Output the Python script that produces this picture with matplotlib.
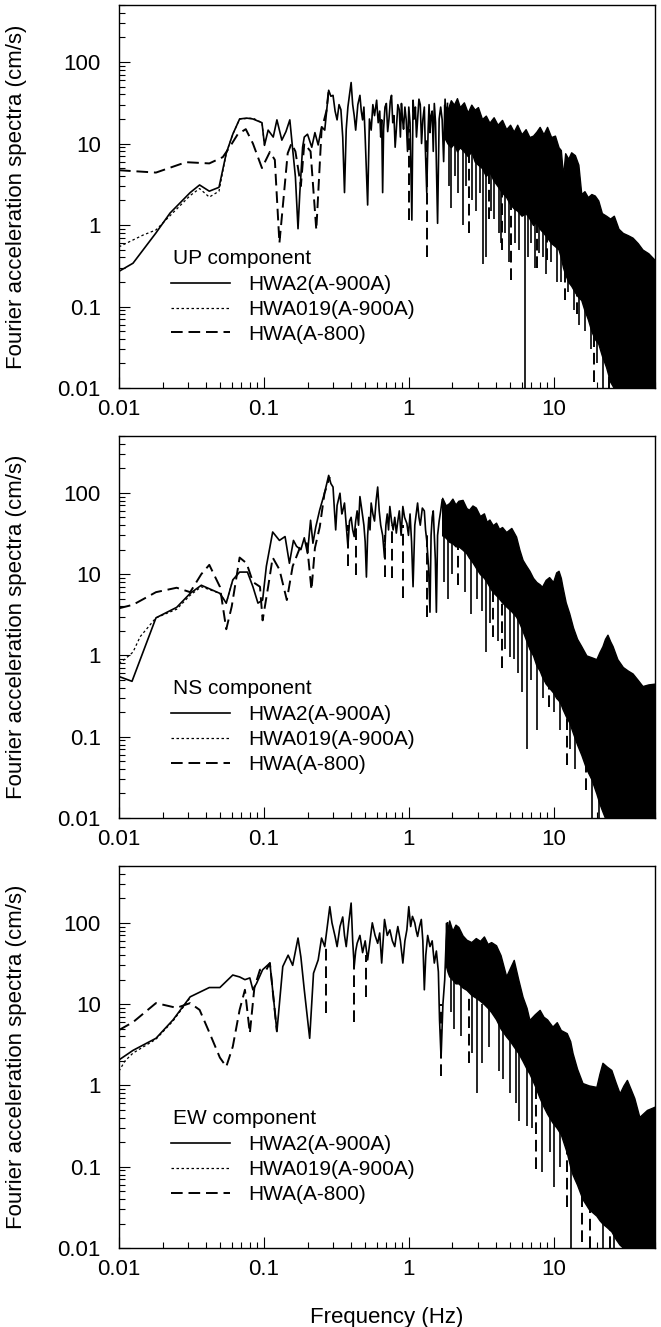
import numpy as np
import matplotlib
matplotlib.use("Agg")
import matplotlib.pyplot as plt
from matplotlib.ticker import FixedLocator, LogLocator, NullFormatter

plt.rcParams['font.family'] = ['Liberation Sans', 'DejaVu Sans']

# ---------------- axis tick labels ----------------
x_ticks = [0.01, 0.1, 1, 10]
x_ticklabels = ["0.01", "0.1", "1", "10"]
y_ticks = [0.01, 0.1, 1, 10, 100]
y_ticklabels = ["0.01", "0.1", "1", "10", "100"]
series_labels = ["HWA2(A-900A)", "HWA019(A-900A)", "HWA(A-800)"]
components = ["UP component", "NS component", "EW component"]

# ================= UP component =================
up_hwa2_f = [0.010, 0.0125, 0.018, 0.0225, 0.031, 0.036, 0.042, 0.049, 0.055, 0.061, 0.068, 0.076, 0.084,
             0.097, 0.101, 0.107, 0.116, 0.123, 0.133, 0.142, 0.151, 0.158, 0.165, 0.172, 0.177, 0.185, 0.19,
             0.20, 0.214, 0.225, 0.237, 0.25, 0.263,
             0.28, 0.29, 0.30, 0.31, 0.32, 0.33, 0.34, 0.35, 0.36, 0.37, 0.38, 0.39, 0.40, 0.41, 0.42, 0.43,
             0.445, 0.46, 0.47, 0.48, 0.49, 0.50, 0.52, 0.535, 0.55, 0.565, 0.58, 0.60, 0.615, 0.63, 0.64,
             0.65, 0.66, 0.67, 0.685, 0.70, 0.715, 0.73, 0.745, 0.76, 0.775, 0.79, 0.805, 0.82, 0.84, 0.86,
             0.875, 0.89, 0.905, 0.92, 0.94, 0.96, 0.98, 1.00, 1.02, 1.05, 1.07, 1.09, 1.11, 1.13, 1.15,
             1.175, 1.20, 1.225, 1.25, 1.28, 1.30, 1.33, 1.36, 1.38, 1.40, 1.425, 1.45, 1.475, 1.50, 1.53,
             1.58, 1.62, 1.66, 1.70, 1.74, 1.78, 1.82, 1.85]
up_hwa2_v = [0.27, 0.34, 0.80, 1.4, 2.5, 3.1, 2.6, 2.9, 7.6, 13, 20, 20.5, 20,
             18, 9.5, 14.6, 12, 19.5, 11, 14, 19.5, 8.5, 3.9, 0.9, 2.5, 9, 12,
             13, 9, 13.6, 9.6, 16, 14.6,
             45, 38, 39, 25, 19.5, 30, 26, 12, 2.5, 15, 28, 40, 56, 30, 22, 14.6,
             30, 39, 25, 19.5, 28, 12, 1.76, 20, 14.6, 30, 22, 34, 18, 25, 12,
             19.5, 2.5, 15, 28, 31, 14, 20, 33, 39, 18, 22, 9, 14.6, 30, 26,
             12, 31, 20, 15, 28, 19.5, 8, 28, 18, 1.15, 34, 20, 28, 12, 19.5,
             35, 30, 10, 19.5, 28, 9, 2.5, 15, 30, 13.6, 22, 25, 8, 31, 18,
             1.05, 20, 28, 19.5, 6, 35, 14, 31]
up_hwa019_f = [0.010, 0.0146, 0.018, 0.0225, 0.031, 0.036, 0.042, 0.049, 0.055, 0.061, 0.068, 0.084, 0.097, 0.101]
up_hwa019_v = [0.54, 0.75, 0.87, 1.3, 2.3, 2.8, 2.2, 2.6, 7.6, 13, 20, 20.5, 18, 9.5]
up_hwa800_f = [0.010, 0.018, 0.029, 0.042, 0.052, 0.058, 0.066, 0.075, 0.084, 0.097, 0.110, 0.119, 0.128,
               0.146, 0.155, 0.165, 0.18, 0.19, 0.21, 0.23, 0.25, 0.27, 0.28]
up_hwa800_v = [4.7, 4.4, 5.9, 5.7, 6.8, 9, 13, 15, 10, 5, 7.9, 6.3, 0.6,
               7.6, 10, 8, 3, 10, 8, 0.87, 14.6, 25, 45]
up_band_f = [1.75, 1.85, 1.95, 2.05, 2.15, 2.25, 2.4, 2.55, 2.7, 2.85, 3.0, 3.2, 3.4, 3.6, 3.85, 4.1, 4.4,
             4.7, 5.0, 5.3, 5.6, 6.0, 6.4, 6.8, 7.2, 7.6, 8.0, 8.5, 9.0, 9.6, 10.2, 10.8, 11.2, 11.6, 12.0,
             12.6, 13.2, 14.0, 14.8, 15.5, 16.3, 17.2, 18.2, 19.2, 20.3, 21.5, 23, 24.5, 26, 28, 30, 32.5,
             35, 38, 41, 45, 50]
up_band_top = [30, 26, 34, 30, 36, 28, 32, 24, 30, 26, 28, 20, 22, 18, 21, 17, 19.5,
               15, 17, 14, 17, 13, 15, 12, 12.5, 14, 16, 13, 16, 12, 12.5, 9, 8.3, 4.0, 7.6,
               6.5, 7.8, 7.2, 5.5, 2.4, 2.6, 2.2, 2.4, 2.3, 2.0, 1.4, 1.3, 1.2, 1.3, 0.9, 0.8, 0.75,
               0.7, 0.6, 0.5, 0.45, 0.37]
up_band_bot = [12, 10, 9, 10, 8, 9, 8, 7, 8, 6, 5.5, 5, 4, 4.5, 3.5, 3, 2.5,
               2.2, 1.8, 1.6, 1.5, 1.3, 1.4, 1.2, 1.0, 1.1, 0.9, 0.8, 0.7, 0.6, 0.55, 0.5, 0.4, 0.3, 0.25,
               0.2, 0.18, 0.15, 0.13, 0.12, 0.09, 0.07, 0.05, 0.04, 0.035, 0.025, 0.018, 0.012, 0.01, 0.01,
               0.01, 0.01, 0.01, 0.01, 0.01, 0.01, 0.01]
up_spike_f = [1.9, 1.97, 2.1, 2.2, 2.35, 2.5, 2.75, 2.9, 3.1, 3.25, 3.4, 3.7, 3.9, 4.2, 4.3, 4.6, 4.9, 5.4,
              5.8, 6.3, 6.6, 7.0, 7.4, 7.9, 8.4, 8.8, 9.6, 10.5, 11.2, 12.6, 13.8, 15.0, 16.5, 18.0, 20.0, 22.0]
up_spike_hi = [15, 12, 12, 12, 10, 10, 10, 8, 7, 6, 5, 5, 4, 4, 3, 3, 2.5, 2,
               2, 2, 1.5, 1.5, 1.3, 1.2, 1.0, 1.0, 0.9, 0.8, 0.6, 0.4, 0.3, 0.25, 0.2, 0.12, 0.08, 0.05]
up_spike_lo = [3, 1.6, 4, 2.5, 1.0, 3, 2, 1.5, 2.5, 0.33, 0.4, 1.5, 1.2, 0.8, 0.6, 0.8, 0.35, 0.6,
               0.5, 0.01, 0.4, 0.6, 0.3, 0.45, 0.4, 0.25, 0.35, 0.2, 0.2, 0.15, 0.09, 0.06, 0.05, 0.03, 0.02, 0.01]
up_dspike_f = [1.0, 1.33, 2.6, 3.55, 4.4, 5.1, 7.7, 9.0, 12.0, 14.4, 19.0, 24.0]
up_dspike_hi = [15, 12, 8, 5, 3, 2, 1.2, 1.0, 0.3, 0.2, 0.06, 0.02]
up_dspike_lo = [1.15, 0.4, 0.8, 1.2, 0.5, 0.21, 0.3, 0.37, 0.12, 0.08, 0.012, 0.01]

# ================= NS component =================
ns_hwa2_f = [0.010, 0.0123, 0.018, 0.025, 0.031, 0.037, 0.0497, 0.055, 0.061, 0.068, 0.077, 0.084, 0.091,
             0.098, 0.104, 0.115, 0.128, 0.14, 0.15, 0.16, 0.168, 0.18, 0.19, 0.20, 0.21, 0.218, 0.228,
             0.243, 0.262,
             0.28, 0.29, 0.30, 0.307, 0.313, 0.32, 0.335, 0.345, 0.35, 0.36, 0.37, 0.38, 0.39, 0.40, 0.41,
             0.42, 0.43, 0.44, 0.45, 0.46, 0.475, 0.49, 0.50, 0.51, 0.52, 0.53, 0.54, 0.55, 0.565, 0.58,
             0.595, 0.61, 0.625, 0.64, 0.66, 0.68, 0.695, 0.71, 0.725, 0.74, 0.76, 0.78, 0.80, 0.82, 0.84,
             0.86, 0.885, 0.91, 0.935, 0.97, 0.995, 1.02, 1.045, 1.07, 1.10, 1.15, 1.175, 1.20, 1.24, 1.28,
             1.305, 1.33, 1.37, 1.40, 1.425, 1.45, 1.475, 1.50, 1.525, 1.55, 1.58, 1.62, 1.66, 1.70]
ns_hwa2_v = [0.55, 0.48, 2.9, 3.9, 5.8, 7.3, 5.8, 4.4, 8.5, 10.6, 10.6, 7.0, 4.4,
             4.8, 12.5, 33, 26, 29, 13.6, 26, 22, 20, 28, 18, 46, 24, 38,
             62, 99,
             164, 130, 118, 60, 35, 70, 99, 55, 60, 75, 40, 22, 45, 50, 35,
             29, 45, 60, 40, 90, 60, 40, 25, 9.2, 30, 50, 35, 75, 55, 45,
             80, 118, 60, 40, 30, 16, 40, 55, 35, 68, 45, 35, 50, 32, 45,
             60, 30, 68, 50, 42, 30, 55, 25, 7, 40, 75, 50, 40, 65, 60,
             35, 26, 12, 3.4, 30, 50, 60, 30, 15, 3.4, 30, 45, 60, 82]
ns_hwa019_f = [0.010, 0.011, 0.0125, 0.014, 0.018, 0.025, 0.031, 0.037, 0.0497, 0.055, 0.061]
ns_hwa019_v = [0.8, 0.9, 1.1, 1.7, 2.9, 3.7, 5.5, 7.0, 5.8, 4.4, 8.5]
ns_hwa800_f = [0.010, 0.0125, 0.018, 0.025, 0.031, 0.037, 0.042, 0.0497, 0.055, 0.060, 0.068, 0.076, 0.084,
               0.094, 0.098, 0.107, 0.115, 0.128, 0.144, 0.158, 0.177, 0.198, 0.213, 0.225, 0.243, 0.262, 0.285]
ns_hwa800_v = [3.8, 4.2, 6.0, 6.8, 6.0, 10, 13, 7, 2.1, 4, 16, 13.6, 8,
               7, 2.7, 7, 16, 11.4, 4.8, 12.5, 21, 24, 6.4, 21, 38, 99, 157]
ns_band_f = [1.7, 1.8, 1.9, 2.0, 2.1, 2.2, 2.35, 2.5, 2.6, 2.75, 2.9, 3.1, 3.3, 3.45, 3.6, 3.8, 4.0, 4.2,
             4.4, 4.7, 5.1, 5.5, 5.8, 6.1, 6.4, 6.8, 7.2, 7.6, 8.0, 8.3, 8.8, 9.3, 9.9, 10.4, 10.8, 11.2,
             11.5, 12.1, 12.8, 13.6, 14.5, 15.5, 16.8, 18.2, 19.7, 20.7, 21.7, 22.6, 23.5, 24.5, 25.5,
             27.5, 30, 32.5, 35, 38, 41, 45, 50]
ns_band_top = [87, 70, 75, 85, 72, 80, 82, 65, 62, 70, 66, 52, 56, 44, 47, 40, 43, 36,
               38, 33, 37, 29, 20, 15, 13, 11, 9, 8, 7.5, 7, 8.5, 9.2, 8, 10.5, 11, 9,
               7, 4.5, 3.3, 2.2, 1.6, 1.3, 1.0, 0.95, 0.9, 1.1, 1.3, 1.6, 1.8, 1.5, 1.3,
               0.9, 0.72, 0.65, 0.6, 0.5, 0.42, 0.44, 0.45]
ns_band_bot = [30, 28, 25, 24, 22, 22, 20, 18, 16, 14, 12, 10, 9, 8, 7, 6, 5.5, 5,
               4.5, 4, 3.5, 3.0, 2.5, 2.0, 1.6, 1.2, 1.0, 0.75, 0.65, 0.55, 0.45, 0.4, 0.35, 0.3, 0.28, 0.25,
               0.22, 0.18, 0.15, 0.11, 0.08, 0.06, 0.04, 0.03, 0.02, 0.015, 0.012, 0.01, 0.01, 0.01, 0.01,
               0.01, 0.01, 0.01, 0.01, 0.01, 0.01, 0.01, 0.01]
ns_spike_f = [1.75, 1.85, 2.0, 2.45, 2.7, 2.95, 3.2, 3.4, 3.65, 4.1, 4.6, 5.0, 5.3, 5.7, 6.0, 6.5, 7.0,
              7.7, 8.5, 10.0, 11.0, 13.0, 14.0, 18.5, 20.5]
ns_spike_hi = [40, 30, 30, 25, 20, 15, 12, 12, 10, 8, 6, 5, 5, 4, 3, 2.5, 1.5,
               1.5, 0.8, 0.5, 0.4, 0.2, 0.15, 0.1, 0.05]
ns_spike_lo = [8, 5, 10, 6, 3.2, 5, 3.5, 1.1, 2.5, 1.5, 1.2, 0.95, 0.9, 0.6, 0.35, 0.07, 0.5,
               0.12, 0.3, 0.2, 0.12, 0.07, 0.04, 0.01, 0.01]
ns_dspike_f = [0.38, 0.43, 0.68, 0.76, 0.91, 1.33, 2.2, 3.8, 4.4, 9.3, 12.3, 16.8]
ns_dspike_hi = [40, 40, 30, 40, 40, 30, 30, 8, 6, 0.5, 0.2, 0.05]
ns_dspike_lo = [12.5, 9.8, 9.3, 9.0, 5.1, 3.0, 7.3, 1.7, 0.7, 0.23, 0.045, 0.022]

# ================= EW component =================
ew_hwa2_f = [0.010, 0.0125, 0.018, 0.0236, 0.031, 0.036, 0.042, 0.0497, 0.061, 0.068, 0.074, 0.080, 0.084,
             0.089, 0.098, 0.110, 0.123, 0.135, 0.147, 0.158, 0.172, 0.180, 0.190, 0.207, 0.220, 0.237,
             0.250, 0.263,
             0.285, 0.295, 0.31, 0.32, 0.335, 0.35, 0.36, 0.37, 0.385, 0.40, 0.41, 0.42, 0.43, 0.44, 0.46,
             0.48, 0.50, 0.52, 0.54, 0.56, 0.585, 0.61, 0.63, 0.65, 0.665, 0.68, 0.71, 0.74, 0.77, 0.80,
             0.82, 0.84, 0.875, 0.91, 0.94, 0.97, 1.00, 1.03, 1.06, 1.10, 1.125, 1.15, 1.185, 1.22, 1.25,
             1.28, 1.31, 1.35, 1.40, 1.45, 1.50, 1.55, 1.60, 1.63, 1.67, 1.72, 1.77, 1.81, 1.85]
ew_hwa2_v = [2.06, 2.7, 3.8, 6.4, 12.3, 14, 16, 16, 22.8, 21.6, 20, 21, 15,
             18, 26.5, 32, 4.6, 29, 40, 30, 65, 38, 15, 3.8, 24, 35,
             65, 51,
             158, 100, 68, 51, 90, 118, 70, 51, 100, 175, 60, 29, 45, 56, 70,
             43, 60, 35, 60, 100, 70, 56, 75, 32, 60, 110, 70, 82, 60, 51,
             70, 90, 60, 32, 60, 82, 158, 90, 120, 100, 80, 68, 90, 110, 60,
             15, 40, 70, 51, 60, 32, 45, 25, 6.4, 2.2, 10, 20, 60, 100]
ew_hwa019_f = [0.010, 0.011, 0.0125, 0.018, 0.0236, 0.031]
ew_hwa019_v = [1.5, 2.0, 2.5, 3.7, 6.2, 12]
ew_hwa800_f = [0.010, 0.0125, 0.018, 0.025, 0.031, 0.036, 0.042, 0.0497, 0.055, 0.061, 0.068, 0.074,
               0.080, 0.086, 0.094, 0.104, 0.110, 0.123]
ew_hwa800_v = [4.8, 6, 10.3, 9, 10.3, 8.5, 4.5, 2.2, 1.7, 3.0, 8.5, 15,
               4.4, 16, 26.5, 26.5, 32, 4.6]
ew_band_f = [1.8, 1.85, 1.9, 2.0, 2.1, 2.2, 2.35, 2.5, 2.7, 2.9, 3.1, 3.3, 3.5, 3.7, 4.0, 4.3, 4.7, 5.0,
             5.3, 5.7, 6.1, 6.5, 6.8, 7.4, 8.0, 8.5, 9.0, 9.8, 10.5, 11.2, 12.3, 13.0, 13.5, 14.5, 15.8,
             17.5, 19.7, 20.7, 21.7, 23.3, 25, 26.7, 28.5, 30.3, 32, 34, 36, 39, 44, 50]
ew_band_top = [100, 85, 107, 80, 95, 89, 70, 62, 58, 65, 60, 68, 55, 58, 53, 40, 22, 28,
               35, 20, 12.3, 9, 6.4, 7.5, 8.5, 7, 6.5, 5.3, 6, 4.8, 4.4, 3.5, 2.5, 1.6, 1.07,
               1.0, 0.96, 1.4, 1.9, 1.7, 1.55, 1.1, 0.8, 1.0, 1.17, 0.9, 0.7, 0.41, 0.5, 0.55]
ew_band_bot = [30, 25, 22, 20, 18, 18, 16, 15, 13, 12, 11, 10, 9, 8, 6.5, 5, 4, 3.5,
               3, 2.5, 2, 1.6, 1.4, 1.0, 0.7, 0.55, 0.45, 0.35, 0.3, 0.25, 0.15, 0.1, 0.08, 0.06, 0.04,
               0.03, 0.025, 0.022, 0.02, 0.018, 0.016, 0.013, 0.011, 0.01, 0.01, 0.01, 0.01, 0.01, 0.01, 0.01]
ew_spike_f = [1.95, 2.05, 2.3, 2.75, 2.95, 3.2, 3.6, 4.2, 4.5, 5.0, 5.5, 5.8, 6.5, 7.1, 8.3, 9.4, 10.0,
              11.0, 13.2, 22.0, 26.0, 35.0]
ew_spike_hi = [30, 25, 20, 15, 12, 10, 10, 8, 6, 4, 3.5, 3, 2, 1.5, 0.7, 0.5, 0.4,
               0.3, 0.2, 0.03, 0.03, 0.02]
ew_spike_lo = [8, 5, 4, 2.5, 0.8, 1.9, 3, 1.5, 1.2, 0.8, 0.6, 0.37, 0.32, 0.3, 0.086, 0.15, 0.056,
               0.1, 0.01, 0.01, 0.01, 0.013]
ew_dspike_f = [0.27, 0.42, 0.51, 1.66, 2.6, 7.5, 12.3, 15.8, 17.7, 24.5]
ew_dspike_hi = [50, 40, 40, 10, 12, 1.0, 0.3, 0.1, 0.08, 0.03]
ew_dspike_lo = [7.8, 6.0, 12.3, 1.3, 1.9, 0.095, 0.032, 0.012, 0.01, 0.01]

panels = [
    (up_hwa2_f, up_hwa2_v, up_hwa019_f, up_hwa019_v, up_hwa800_f, up_hwa800_v,
     up_band_f, up_band_top, up_band_bot, up_spike_f, up_spike_hi, up_spike_lo,
     up_dspike_f, up_dspike_hi, up_dspike_lo),
    (ns_hwa2_f, ns_hwa2_v, ns_hwa019_f, ns_hwa019_v, ns_hwa800_f, ns_hwa800_v,
     ns_band_f, ns_band_top, ns_band_bot, ns_spike_f, ns_spike_hi, ns_spike_lo,
     ns_dspike_f, ns_dspike_hi, ns_dspike_lo),
    (ew_hwa2_f, ew_hwa2_v, ew_hwa019_f, ew_hwa019_v, ew_hwa800_f, ew_hwa800_v,
     ew_band_f, ew_band_top, ew_band_bot, ew_spike_f, ew_spike_hi, ew_spike_lo,
     ew_dspike_f, ew_dspike_hi, ew_dspike_lo),
]

fig = plt.figure(figsize=(6.61, 13.27), dpi=100)
rects = [[0.1800, 0.7076, 0.8109, 0.2886],
         [0.1800, 0.3836, 0.8109, 0.2878],
         [0.1800, 0.0595, 0.8109, 0.2879]]

DASH = (6, 3)
DOT = (2.0, 2.0)

for i, (rect, data, comp) in enumerate(zip(rects, panels, components)):
    (f2, v2, f19, v19, f8, v8, bf, btop, bbot, sf, shi, slo, dsf, dshi, dslo) = data
    ax = fig.add_axes(rect)
    ax.set_xscale('log')
    ax.set_yscale('log')
    ax.set_xlim(0.01, 50)
    ax.set_ylim(0.01, 500)

    ax.fill_between(bf, bbot, btop, color='black', lw=1.0, edgecolor='black')
    ax.vlines(sf, slo, shi, colors='black', lw=1.2)
    ax.vlines(dsf, dslo, dshi, colors='black', lw=1.4, linestyles=[(0, DASH)])
    l8, = ax.plot(f8, v8, color='black', lw=1.4, dashes=DASH, label=series_labels[2])
    l19, = ax.plot(f19, v19, color='black', lw=0.9, dashes=DOT, label=series_labels[1])
    l2, = ax.plot(f2, v2, color='black', lw=1.2, label=series_labels[0])

    ax.text(0.101, 0.338, comp, transform=ax.transAxes, fontsize=15, ha='left', va='center')
    ax.legend(handles=[l2, l19, l8], loc='upper left',
              bbox_to_anchor=(0.097, 0.295), frameon=False, fontsize=15,
              handlelength=2.83, handletextpad=0.87, labelspacing=0.28,
              borderpad=0.0, borderaxespad=0.0)

    ax.xaxis.set_major_locator(FixedLocator(x_ticks))
    ax.set_xticklabels(x_ticklabels)
    ax.xaxis.set_minor_locator(LogLocator(base=10, subs=np.arange(2, 10)))
    ax.xaxis.set_minor_formatter(NullFormatter())
    ax.yaxis.set_major_locator(FixedLocator(y_ticks))
    ax.set_yticklabels(y_ticklabels)
    ax.yaxis.set_minor_locator(LogLocator(base=10, subs=np.arange(2, 10)))
    ax.yaxis.set_minor_formatter(NullFormatter())

    ax.tick_params(which='both', direction='in', top=False, right=False, width=0.8, labelsize=16)
    ax.tick_params(which='major', length=8)
    ax.tick_params(which='minor', length=4)
    ax.tick_params(axis='y', which='major', pad=13)
    ax.tick_params(axis='x', which='major', pad=8)
    for s in ax.spines.values():
        s.set_linewidth(1.0)

    ax.set_ylabel("Fourier acceleration spectra (cm/s)", fontsize=16)
    ax.yaxis.set_label_coords(-0.172, 0.5)
    if i == 2:
        ax.set_xlabel("Frequency (Hz)", fontsize=16)
        ax.xaxis.set_label_coords(0.5, -0.155)

fig.savefig("out.png", dpi=100)
